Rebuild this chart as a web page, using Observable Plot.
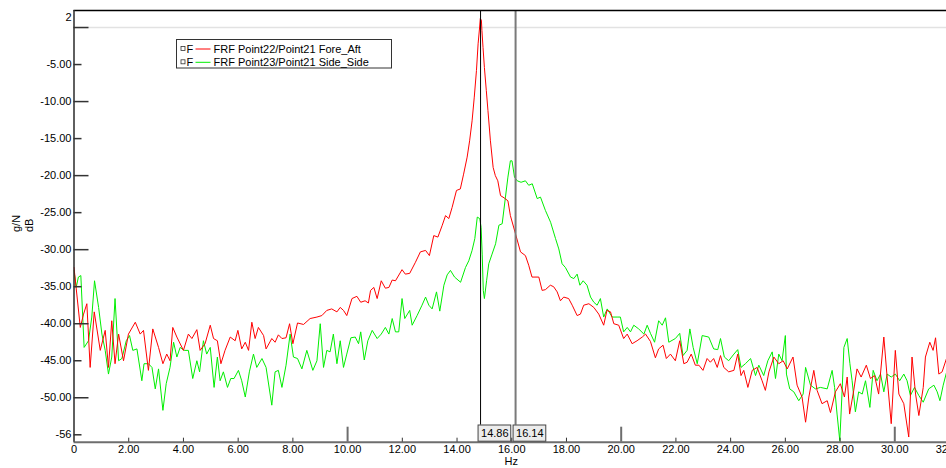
<!DOCTYPE html>
<html><head><meta charset="utf-8">
<script src="https://cdn.jsdelivr.net/npm/d3@7"></script>
<script src="https://cdn.jsdelivr.net/npm/@observablehq/plot@0.6"></script>
<style>
html,body{margin:0;padding:0;background:#fff;}
#chart{position:relative;width:946px;height:468px;overflow:hidden;}
</style></head><body><div id="chart"></div>
<script>
// ---- data ----
const redHz = [0.00,0.23,0.35,0.47,0.59,0.74,0.96,1.14,1.26,1.38,1.50,1.63,1.81,1.99,2.24,2.42,2.54,2.72,2.88,3.09,3.25,3.39,3.51,3.61,3.76,4.00,4.18,4.31,4.49,4.61,4.79,4.98,5.10,5.24,5.37,5.52,5.71,5.89,5.99,6.13,6.26,6.38,6.50,6.62,6.74,6.93,7.02,7.23,7.35,7.47,7.60,7.75,7.88,8.00,8.17,8.39,8.63,8.88,9.06,9.24,9.42,9.61,9.73,9.85,9.97,10.16,10.34,10.48,10.64,10.76,10.84,10.96,11.08,11.23,11.38,11.51,11.63,11.75,11.99,12.11,12.27,12.48,12.66,12.85,12.99,13.15,13.30,13.46,13.58,13.70,13.82,13.98,14.12,14.24,14.37,14.46,14.55,14.63,14.71,14.77,14.82,14.85,14.89,14.91,14.95,15.00,15.07,15.13,15.22,15.32,15.40,15.49,15.59,15.72,15.86,15.95,16.14,16.32,16.50,16.62,16.74,16.99,17.11,17.23,17.41,17.53,17.66,17.78,17.90,18.08,18.21,18.39,18.51,18.63,18.82,19.00,19.18,19.36,19.48,19.61,19.73,19.91,20.09,20.22,20.40,20.58,20.77,20.89,21.07,21.25,21.37,21.53,21.65,21.80,21.98,22.14,22.29,22.41,22.56,22.71,22.84,22.99,23.14,23.26,23.38,23.51,23.63,23.75,23.93,24.12,24.26,24.38,24.48,24.63,24.79,24.97,25.15,25.27,25.40,25.58,25.76,25.92,26.07,26.28,26.43,26.61,26.74,26.86,27.04,27.16,27.34,27.53,27.65,27.83,28.01,28.16,28.26,28.35,28.50,28.62,28.77,28.96,29.11,29.26,29.41,29.60,29.72,29.87,30.02,30.15,30.33,30.51,30.63,30.76,30.88,31.04,31.12,31.28,31.40,31.49,31.61,31.73,31.89,32.00];
const redDb = [-32.4,-40.5,-38.7,-37.3,-45.9,-38.4,-43.6,-40.9,-45.9,-39.6,-45.4,-41.4,-45.0,-41.4,-39.8,-41.4,-40.9,-46.3,-40.7,-43.2,-45.4,-44.1,-45.0,-40.5,-41.8,-43.6,-41.4,-42.0,-40.8,-43.6,-42.7,-40.2,-42.0,-42.3,-45.4,-43.6,-41.8,-42.3,-40.9,-43.4,-42.5,-43.6,-39.8,-42.0,-40.5,-41.6,-43.4,-42.0,-42.5,-41.5,-42.0,-41.9,-40.0,-42.7,-39.9,-40.1,-39.3,-39.1,-38.9,-38.2,-38.0,-38.4,-37.8,-38.2,-38.9,-36.6,-36.3,-37.1,-36.9,-37.2,-35.5,-35.1,-36.6,-34.2,-35.2,-35.1,-34.1,-34.2,-32.7,-33.3,-33.2,-31.7,-30.3,-30.1,-30.8,-28.1,-28.3,-26.7,-25.4,-25.8,-24.3,-22.0,-21.8,-19.8,-17.5,-15.3,-12.6,-9.4,-5.8,-2.2,-0.2,1.2,1.0,-0.4,-2.7,-5.4,-8.5,-11.2,-15.3,-18.9,-20.0,-20.7,-22.7,-23.0,-23.4,-25.4,-27.9,-30.3,-30.8,-32.1,-33.7,-33.7,-35.5,-35.4,-34.8,-35.0,-35.7,-36.9,-36.4,-36.6,-37.5,-38.9,-38.7,-37.5,-37.3,-37.8,-38.7,-40.2,-38.2,-38.4,-40.0,-40.2,-42.0,-41.4,-42.7,-42.3,-41.8,-41.4,-42.4,-44.6,-43.4,-42.9,-44.7,-44.1,-45.0,-42.3,-45.4,-45.2,-44.1,-45.6,-45.6,-46.3,-44.7,-45.2,-44.7,-45.9,-44.3,-45.9,-46.5,-46.3,-44.1,-47.0,-46.3,-48.6,-46.3,-45.9,-47.7,-49.0,-46.5,-44.5,-45.4,-45.0,-46.1,-44.5,-48.3,-49.9,-53.3,-49.9,-46.3,-49.0,-50.8,-50.4,-52.0,-49.2,-48.1,-49.9,-47.2,-52.2,-49.0,-46.1,-47.2,-45.6,-47.4,-47.0,-49.5,-41.8,-47.2,-53.5,-43.6,-49.5,-50.8,-55.3,-44.5,-49.5,-52.4,-48.6,-44.5,-42.5,-43.6,-41.9,-46.8,-46.5,-44.7,-43.6];

const greenHz = [0.00,0.08,0.16,0.25,0.37,0.53,0.65,0.75,0.90,1.02,1.14,1.26,1.38,1.50,1.63,1.75,1.91,2.03,2.15,2.30,2.48,2.56,2.72,2.85,2.97,3.09,3.25,3.37,3.51,3.64,3.76,3.88,4.03,4.18,4.34,4.49,4.59,4.73,4.85,4.98,5.12,5.24,5.34,5.46,5.61,5.73,5.85,6.01,6.13,6.26,6.41,6.56,6.68,6.87,7.02,7.23,7.35,7.47,7.60,7.75,7.90,8.02,8.17,8.33,8.51,8.73,8.88,9.00,9.12,9.24,9.36,9.48,9.61,9.73,9.85,9.97,10.12,10.28,10.40,10.48,10.61,10.74,10.90,11.08,11.23,11.38,11.51,11.63,11.75,11.87,11.99,12.09,12.27,12.36,12.54,12.72,12.85,12.97,13.09,13.25,13.37,13.52,13.64,13.76,13.91,14.13,14.31,14.43,14.55,14.65,14.74,14.83,14.88,14.92,14.96,15.00,15.08,15.16,15.28,15.41,15.53,15.65,15.77,15.86,15.95,16.01,16.10,16.20,16.34,16.50,16.62,16.75,16.93,17.05,17.23,17.42,17.60,17.72,17.84,17.96,18.15,18.27,18.39,18.49,18.61,18.75,18.88,19.00,19.12,19.24,19.36,19.49,19.67,19.85,19.97,20.09,20.22,20.34,20.46,20.64,20.83,20.95,21.07,21.22,21.37,21.50,21.62,21.74,21.98,22.14,22.26,22.41,22.51,22.63,22.78,22.96,23.20,23.38,23.53,23.63,23.77,23.93,24.12,24.26,24.38,24.54,24.73,24.91,25.03,25.21,25.36,25.52,25.64,25.76,25.88,26.00,26.04,26.16,26.31,26.49,26.65,26.74,26.92,27.10,27.28,27.53,27.71,27.80,27.89,27.99,28.07,28.14,28.26,28.36,28.44,28.56,28.68,28.81,28.93,29.09,29.21,29.35,29.48,29.60,29.72,29.87,30.02,30.18,30.33,30.45,30.57,30.72,30.88,31.04,31.24,31.43,31.55,31.65,31.77,31.91,32.00];
const greenDb = [-32.8,-35.1,-33.7,-33.5,-43.2,-42.3,-39.1,-34.2,-37.8,-41.4,-43.6,-46.8,-44.5,-36.6,-45.0,-44.7,-42.3,-41.6,-43.6,-43.4,-47.7,-45.4,-45.4,-45.9,-48.8,-46.1,-51.7,-48.1,-45.9,-42.5,-44.5,-43.2,-43.6,-43.6,-47.4,-45.0,-46.5,-42.3,-44.1,-43.2,-48.6,-44.5,-47.7,-46.5,-48.6,-47.4,-47.4,-46.3,-47.7,-49.9,-46.5,-44.1,-45.9,-44.7,-45.9,-51.0,-46.5,-46.3,-48.6,-45.6,-41.4,-44.5,-44.7,-46.1,-43.6,-46.3,-45.0,-40.0,-45.9,-43.6,-43.8,-41.4,-45.4,-42.3,-45.9,-44.1,-41.9,-41.8,-42.7,-41.1,-44.9,-42.3,-40.9,-42.0,-41.4,-40.5,-41.4,-39.3,-41.1,-41.1,-36.6,-39.3,-38.2,-40.2,-38.9,-37.5,-36.4,-37.5,-38.0,-35.7,-38.3,-34.8,-33.4,-32.8,-33.7,-34.4,-32.4,-31.5,-30.1,-28.5,-25.6,-25.8,-27.0,-30.6,-35.5,-36.6,-34.2,-31.9,-30.6,-29.2,-26.7,-26.5,-22.9,-20.2,-18.0,-18.0,-20.2,-20.7,-20.9,-20.7,-21.3,-21.1,-23.1,-22.9,-24.7,-26.3,-28.5,-29.9,-31.9,-32.4,-33.7,-33.9,-33.3,-34.8,-34.2,-34.8,-36.4,-37.1,-37.5,-36.6,-39.1,-38.0,-39.1,-39.1,-39.1,-41.1,-40.5,-41.1,-40.2,-40.7,-41.4,-40.2,-41.3,-42.5,-39.6,-40.2,-39.2,-42.5,-42.0,-41.3,-44.3,-43.6,-40.7,-43.2,-45.4,-41.6,-41.8,-43.4,-43.5,-42.0,-44.5,-45.0,-44.1,-43.5,-45.9,-45.4,-44.7,-47.0,-45.6,-47.0,-45.0,-43.8,-47.4,-44.1,-45.0,-41.6,-46.8,-48.8,-49.2,-50.4,-49.5,-45.9,-48.3,-48.8,-48.6,-48.8,-46.3,-48.6,-52.2,-55.8,-49.5,-43.2,-42.0,-45.4,-47.7,-51.9,-49.2,-49.5,-47.7,-51.3,-46.3,-47.7,-46.8,-49.2,-46.8,-47.2,-46.8,-47.7,-46.8,-47.7,-49.7,-48.6,-49.7,-50.6,-48.8,-48.3,-49.2,-50.4,-48.3,-46.3,-46.1];

const seriesNames = ["FRF Point22/Point21 Fore_Aft", "FRF Point23/Point21 Side_Side"];
const seriesColors = ["#ff0000", "#00ee00"];
const cursorHz = [14.86, 16.14];
const cursorLabels = ["14.86", "16.14"];
const xDomain = [0, 32];
const yDomain = [-56, 2.3];
const xMajor = [10, 20, 30];
const xMinor = [2, 4, 6, 8, 12, 14, 16, 18, 22, 24, 26, 28];
const xLabelTicks = [0, 2, 4, 6, 8, 10, 12, 14, 16, 18, 20, 22, 24, 26, 28, 30, 32];
const yMajor = [0, -10, -20, -30, -40, -50];
const yMinor = [-5, -15, -25, -35, -45, -55];
const yLabelTicks = [-5, -10, -15, -20, -25, -30, -35, -40, -45, -50];
const yEndValues = [2.3, -56];
const yEndLabels = ["2", "-56"];
const xTitle = "Hz";
const yTitles = ["g/N", "dB"];

const red = redHz.map((h, i) => ({hz: h, db: redDb[i]}));
const green = greenHz.map((h, i) => ({hz: h, db: greenDb[i]}));
const font = "'Liberation Sans', Arial, sans-serif";

const chart = Plot.plot({
  width: 946, height: 468,
  marginLeft: 73.5, marginRight: -3, marginTop: 10, marginBottom: 26.3,
  style: {fontFamily: font, fontSize: "11px", background: "#fff", color: "#000", overflow: "visible"},
  x: {domain: xDomain},
  y: {domain: yDomain},
  marks: [
    Plot.ruleY([0], {stroke: "#e2e2e2", strokeWidth: 1.5}),
    Plot.line(green, {x: "hz", y: "db", stroke: seriesColors[1], strokeWidth: 1, clip: true}),
    Plot.line(red, {x: "hz", y: "db", stroke: seriesColors[0], strokeWidth: 1, clip: true}),
    Plot.ruleX([cursorHz[0]], {stroke: "#000", strokeWidth: 1, insetBottom: 17}),
    Plot.ruleX([cursorHz[1]], {stroke: "#7a7a7a", strokeWidth: 2, insetBottom: 17}),
    Plot.ruleY([yDomain[1]], {stroke: "#000", strokeWidth: 1.5}),
    Plot.ruleY([yDomain[0]], {stroke: "#6e6e6e", strokeWidth: 2}),
    Plot.ruleX([xDomain[0]], {stroke: "#2a2a2a", strokeWidth: 1.5}),
    // inward ticks on the y axis
    Plot.ruleY(yMajor, {y: d => d, x1: xDomain[0], x2: xDomain[0], insetRight: -15, stroke: "#333", strokeWidth: 1.5}),
    Plot.ruleY(yMinor, {y: d => d, x1: xDomain[0], x2: xDomain[0], insetRight: -8, stroke: "#333", strokeWidth: 1.5}),
    // inward ticks on the x axis
    Plot.ruleX(xMajor, {x: d => d, y1: yDomain[0], y2: yDomain[0], insetBottom: 15, stroke: "#6e6e6e", strokeWidth: 2}),
    Plot.ruleX(xMinor, {x: d => d, y1: yDomain[0], y2: yDomain[0], insetBottom: 4, stroke: "#333", strokeWidth: 1}),
    Plot.axisY(yLabelTicks, {tickSize: 0, tickPadding: 2.5, tickFormat: d => d.toFixed(2), label: null}),
    Plot.text([yEndValues[0]], {y: d => d, frameAnchor: "left", text: () => yEndLabels[0], textAnchor: "end", dx: -2.5, dy: 7}),
    Plot.text([yEndValues[1]], {y: d => d, frameAnchor: "left", text: () => yEndLabels[1], textAnchor: "end", dx: -2.5, dy: -8}),
    Plot.axisX(xLabelTicks, {anchor: "bottom", tickSize: 0, tickPadding: 3, tickFormat: d => d === 0 ? "0" : d.toFixed(2), label: null})
  ]
});
document.getElementById("chart").appendChild(chart);

const svg = d3.select(chart);
const sx = chart.scale("x"), sy = chart.scale("y");
const yBottom = sy.apply(yDomain[0]);

// cursor value boxes
cursorHz.forEach((v, i) => {
  const cx = sx.apply(v);
  const g = svg.append("g");
  g.append("rect").attr("x", cx - 2).attr("y", yBottom - 16.7).attr("width", 32.7).attr("height", 16.2)
    .attr("fill", "#ececec").attr("stroke", "#444").attr("stroke-width", 1);
  g.append("text").attr("x", cx + 1).attr("y", yBottom - 8.4).attr("dy", "0.35em").attr("text-anchor", "start")
    .attr("font-family", font).attr("font-size", 11).attr("fill", "#000").text(cursorLabels[i]);
});

// axis titles
svg.append("text").attr("x", (sx.apply(xDomain[0]) + sx.apply(xDomain[1])) / 2).attr("y", 465)
  .attr("text-anchor", "middle").attr("font-family", font).attr("font-size", 11).attr("fill", "#000").text(xTitle);
svg.append("text").attr("transform", "translate(20,232) rotate(-90)").attr("text-anchor", "start")
  .attr("font-family", font).attr("font-size", 11).attr("fill", "#000").text(yTitles[0]);
svg.append("text").attr("transform", "translate(33,232) rotate(-90)").attr("text-anchor", "start")
  .attr("font-family", font).attr("font-size", 11).attr("fill", "#000").text(yTitles[1]);

// legend
const lg = svg.append("g").attr("transform", "translate(176.5,39.5)");
lg.append("rect").attr("width", 215).attr("height", 28.5).attr("fill", "#fff").attr("stroke", "#333").attr("stroke-width", 1);
seriesNames.forEach((name, i) => {
  const cy = 9.5 + i * 13.3;
  lg.append("rect").attr("x", 4.5).attr("y", cy - 2.5).attr("width", 4).attr("height", 4)
    .attr("fill", "none").attr("stroke", "#333").attr("stroke-width", 0.8);
  lg.append("text").attr("x", 10).attr("y", cy).attr("dy", "0.35em").attr("text-anchor", "start")
    .attr("font-family", font).attr("font-size", 11).attr("fill", "#000").text("F");
  lg.append("line").attr("x1", 19).attr("x2", 34).attr("y1", cy).attr("y2", cy).attr("stroke", seriesColors[i]).attr("stroke-width", 1);
  lg.append("text").attr("x", 37).attr("y", cy).attr("dy", "0.35em").attr("text-anchor", "start")
    .attr("font-family", font).attr("font-size", 11).attr("fill", "#000").text(name);
});
</script></body></html>
